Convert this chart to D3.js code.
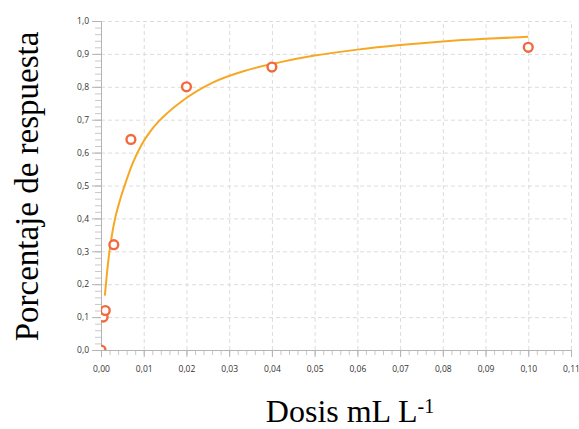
<!DOCTYPE html>
<html>
<head>
<meta charset="utf-8">
<script src="https://cdn.jsdelivr.net/npm/d3@7"></script>
<style>
  body { margin: 0; background: #fff; }
  svg { display: block; }
</style>
</head>
<body>
<div id="chart"></div>
<script>
// observed points
const doseObs = [0, 0.0005, 0.001, 0.003, 0.007, 0.02, 0.04, 0.1];
const respObs = [0.0, 0.10, 0.12, 0.32, 0.64, 0.80, 0.86, 0.92];

// fitted curve
const doseFit = [0.0009, 0.0017, 0.0025, 0.0033, 0.0045, 0.006, 0.0075, 0.0095, 0.0115, 0.0135,
                 0.0155, 0.019, 0.026, 0.034, 0.042, 0.05, 0.06, 0.07, 0.08, 0.09, 0.1];
const respFit = [0.165, 0.27, 0.345, 0.40, 0.458, 0.518, 0.570, 0.624, 0.664, 0.695,
                 0.72, 0.757, 0.812, 0.85, 0.875, 0.895, 0.913, 0.927, 0.938, 0.946, 0.952];

const xTicks = d3.range(0, 0.1101, 0.01);
const yTicks = d3.range(0, 1.001, 0.1);

const width = 579, height = 429;
const margin = { top: 21, right: 8, bottom: 79, left: 101 };

const locale = d3.formatLocale({ decimal: ",", thousands: ".", grouping: [3], currency: ["", ""] });
const fmtX = locale.format(".2f");
const fmtY = locale.format(".1f");

const svg = d3.select("#chart").append("svg")
  .attr("width", width)
  .attr("height", height);

const x = d3.scaleLinear().domain([0, 0.11]).range([margin.left, width - margin.right]);
const y = d3.scaleLinear().domain([0, 1]).range([height - margin.bottom, margin.top]);

svg.append("clipPath")
  .attr("id", "plot-clip")
  .append("rect")
  .attr("x", x(0))
  .attr("y", 0)
  .attr("width", width - x(0))
  .attr("height", y(0));

// grid
const grid = svg.append("g")
  .attr("stroke", "#dcdcdc")
  .attr("stroke-dasharray", "4,3")
  .attr("stroke-width", 1);
grid.selectAll(".gx")
  .data(xTicks.slice(1))
  .enter().append("line")
  .attr("x1", d => x(d) + 0.5).attr("x2", d => x(d) + 0.5)
  .attr("y1", y(0)).attr("y2", y(1));
grid.selectAll(".gy")
  .data(yTicks.slice(1))
  .enter().append("line")
  .attr("x1", x(0)).attr("x2", x(0.11))
  .attr("y1", d => y(d) + 0.5).attr("y2", d => y(d) + 0.5);

// minor ticks
const xMinor = d3.range(0, 0.1101, 0.002);
const yMinor = d3.range(0, 1.001, 0.02);

svg.append("g")
  .attr("transform", `translate(0,${y(0)})`)
  .call(d3.axisBottom(x).tickValues(xMinor).tickSize(5).tickFormat(""))
  .call(g => g.select(".domain").remove())
  .call(g => g.selectAll("line").attr("stroke", "#c8c8c8"));

svg.append("g")
  .attr("transform", `translate(${x(0)},0)`)
  .call(d3.axisLeft(y).tickValues(yMinor).tickSize(6).tickFormat(""))
  .call(g => g.select(".domain").remove())
  .call(g => g.selectAll("line").attr("stroke", "#c8c8c8"));

// major axes
const xAxis = svg.append("g")
  .attr("transform", `translate(0,${y(0)})`)
  .call(d3.axisBottom(x).tickValues(xTicks).tickSize(7).tickPadding(9).tickFormat(fmtX));
const yAxis = svg.append("g")
  .attr("transform", `translate(${x(0)},0)`)
  .call(d3.axisLeft(y).tickValues(yTicks).tickSize(9).tickPadding(3).tickFormat(fmtY));

[xAxis, yAxis].forEach(g => {
  g.select(".domain").attr("stroke", "#b4b4b4");
  g.selectAll(".tick line").attr("stroke", "#b4b4b4");
  g.selectAll("text")
    .attr("fill", "#333")
    .style("font-family", "'Open Sans', sans-serif")
    .style("font-size", "8.5px");
});

const plot = svg.append("g").attr("clip-path", "url(#plot-clip)");

// fitted curve
const line = d3.line()
  .x((d, i) => x(doseFit[i]))
  .y((d, i) => y(respFit[i]))
  .curve(d3.curveMonotoneX);

plot.append("path")
  .datum(respFit)
  .attr("fill", "none")
  .attr("stroke", "#f7a823")
  .attr("stroke-width", 2)
  .attr("d", line);

// observed points
plot.append("g")
  .selectAll("circle")
  .data(respObs)
  .enter().append("circle")
  .attr("cx", (d, i) => x(doseObs[i]))
  .attr("cy", d => y(d))
  .attr("r", 4.4)
  .attr("fill", "#fff")
  .attr("stroke", "#f2693d")
  .attr("stroke-width", 2.4);

// axis titles
svg.append("text")
  .attr("transform", `translate(38,${(y(0) + y(1)) / 2 + 1}) rotate(-90)`)
  .attr("text-anchor", "middle")
  .style("font-family", "'Liberation Serif', 'Times New Roman', serif")
  .style("font-size", "33px")
  .attr("fill", "#000")
  .text("Porcentaje de respuesta");

const xt = svg.append("text")
  .attr("x", 350)
  .attr("y", 422)
  .attr("text-anchor", "middle")
  .style("font-family", "'Liberation Serif', 'Times New Roman', serif")
  .style("font-size", "32px")
  .attr("fill", "#000");
xt.append("tspan").text("Dosis mL L");
xt.append("tspan").attr("dy", -9).style("font-size", "20px").text("-1");
</script>
</body>
</html>
